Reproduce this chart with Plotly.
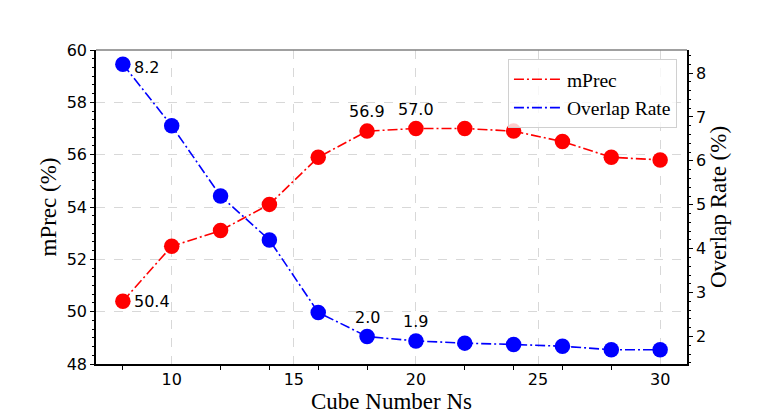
import plotly.graph_objects as go

# cube number Ns on the x axis
cube_num = [8, 10, 12, 14, 16, 18, 20, 22, 24, 26, 28, 30]
mprec = [50.4, 52.5, 53.1, 54.1, 55.9, 56.9, 57.0, 57.0, 56.9, 56.5, 55.9, 55.8]
overlap = [8.2, 6.8, 5.2, 4.2, 2.55, 2.0, 1.9, 1.85, 1.82, 1.78, 1.7, 1.7]

RED = '#ff0000'
BLUE = '#0000ff'
DASH = '10px,3px,2px,3px'
TICKFONT = dict(family='DejaVu Sans', size=16, color='black')
SERIF = 'Liberation Serif, Times New Roman, serif'
TITLEFONT = dict(family=SERIF, size=23, color='black')

fig = go.Figure()

# lines carry the legend (matplotlib legend shows line only)
fig.add_trace(go.Scatter(x=cube_num, y=mprec, mode='lines', name='mPrec',
                         line=dict(color=RED, width=1.6, dash=DASH)))
fig.add_trace(go.Scatter(x=cube_num, y=overlap, mode='lines', name='Overlap Rate',
                         yaxis='y2', line=dict(color=BLUE, width=1.6, dash=DASH)))
fig.add_trace(go.Scatter(x=cube_num, y=mprec, mode='markers', showlegend=False,
                         marker=dict(color=RED, size=15.5)))
fig.add_trace(go.Scatter(x=cube_num, y=overlap, mode='markers', showlegend=False,
                         yaxis='y2', marker=dict(color=BLUE, size=15.5)))

# value labels
afont = dict(family='DejaVu Sans', size=16, color='black')
fig.add_annotation(x=cube_num[0], y=mprec[0], xref='x', yref='y', text=f'{mprec[0]:.1f}',
                   showarrow=False, xanchor='left', xshift=9, font=afont)
fig.add_annotation(x=cube_num[0], y=overlap[0], xref='x', yref='y2', text=f'{overlap[0]:.1f}',
                   showarrow=False, xanchor='left', xshift=9, yshift=-3, font=afont)
for i in (5, 6):
    fig.add_annotation(x=cube_num[i], y=mprec[i], xref='x', yref='y', text=f'{mprec[i]:.1f}',
                       showarrow=False, yanchor='bottom', yshift=8, font=afont)
    fig.add_annotation(x=cube_num[i], y=overlap[i], xref='x', yref='y2', text=f'{overlap[i]:.1f}',
                       showarrow=False, yanchor='bottom', yshift=8, font=afont)

# gray top spine
fig.add_shape(type='line', xref='paper', yref='paper', x0=0, x1=1, y0=1, y1=1,
              line=dict(color='#808080', width=1.5))

# page body has an 8px margin, so the figure is shrunk by 8px to sit in the window
fig.update_layout(
    width=756, height=409,
    margin=dict(l=88, r=77, t=42, b=53, autoexpand=False),
    paper_bgcolor='white', plot_bgcolor='white',
    showlegend=True,
    legend=dict(x=0.983, y=0.971, xanchor='right', yanchor='top',
                bgcolor='rgba(255,255,255,0.8)', bordercolor='#d0d0d0', borderwidth=1,
                font=dict(family=SERIF, size=19.5, color='black'),
                itemwidth=48),
    xaxis=dict(range=[6.9, 31.1], tickvals=[10, 15, 20, 25, 30],
               ticks='outside', ticklen=0, tickfont=TICKFONT, automargin=False,
               minor=dict(tickvals=[8, 12, 14, 16, 18, 22, 24, 26, 28], ticks='outside',
                          ticklen=4, tickcolor='black', showgrid=False),
               showline=True, linecolor='black', linewidth=1.5,
               showgrid=True, gridcolor='#d8d8d8', griddash='dash', gridwidth=0.8,
               zeroline=False,
               title=dict(text='Cube Number Ns', font=TITLEFONT, standoff=2)),
    yaxis=dict(range=[48, 60], dtick=2, ticks='outside', ticklen=4, tickcolor='black',
               tickfont=TICKFONT, automargin=False,
               minor=dict(dtick=1/3, tick0=48, ticks='outside', ticklen=2.5,
                          tickcolor='black', showgrid=False),
               showline=True, linecolor='black', linewidth=1.5,
               showgrid=True, gridcolor='#d8d8d8', griddash='dash', gridwidth=0.8,
               zeroline=False,
               title=dict(text='mPrec (%)', font=TITLEFONT, standoff=4)),
    yaxis2=dict(range=[1.375, 8.525], dtick=1, overlaying='y', side='right',
                ticks='outside', ticklen=4, tickcolor='black', tickfont=TICKFONT,
                automargin=False,
                minor=dict(dtick=0.2, tick0=0, ticks='outside', ticklen=2.5,
                           tickcolor='black', showgrid=False),
                showline=True, linecolor='black', linewidth=1.5,
                showgrid=False, zeroline=False,
                title=dict(text='Overlap Rate (%)', font=TITLEFONT, standoff=4)),
)

fig.write_html('out.html')
